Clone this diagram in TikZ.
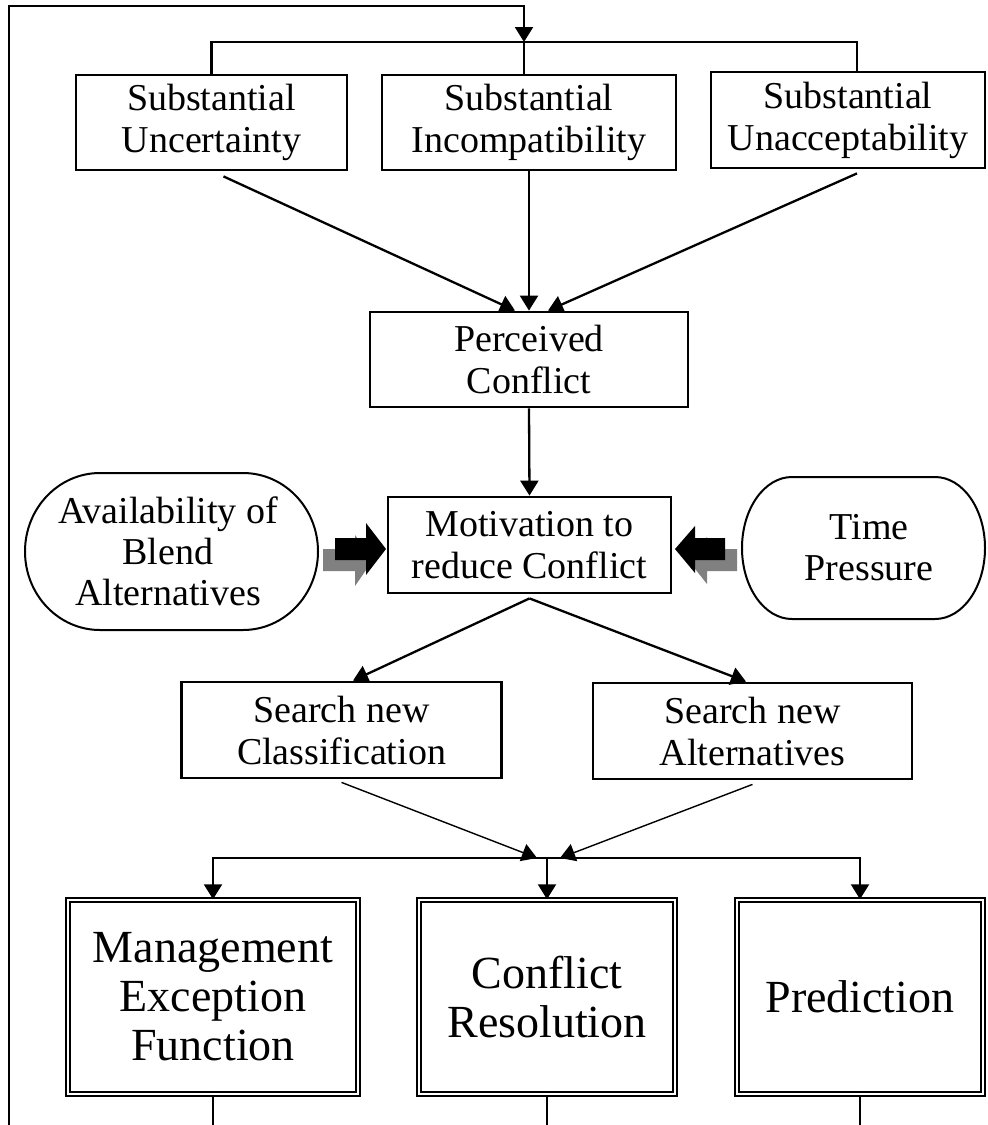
\documentclass[tikz,border=0pt]{standalone}
\usepackage{fontspec}
\setmainfont{Liberation Serif}
\usetikzlibrary{arrows.meta}
\begin{document}
\begin{tikzpicture}[x=1pt,y=-1pt,
  box/.style={draw, line width=2.8pt, inner sep=0pt, align=center, font=\fontsize{38}{42}\selectfont},
  dbox/.style={draw, double, line width=1.5pt, double distance=2.6pt, inner sep=0pt, align=center, font=\fontsize{46}{49}\selectfont},
  conn/.style={line width=2.3pt},
  arr/.style={conn, -{Triangle[length=15pt,width=18pt]}},
  thinarr/.style={line width=1.4pt, -{Triangle[length=15pt,width=18pt]}},
  lbl/.style={align=center, font=\fontsize{38}{41}\selectfont, inner sep=0pt},
  shadowarrow/.style={fill=gray},
  blockarrow/.style={fill=black}]
\useasboundingbox (0,0) rectangle (988,1125);

% top row
\node[box, minimum width=271pt, minimum height=95pt] (unc) at (211.5,122.5) {Substantial\\Uncertainty};
\node[box, minimum width=294pt, minimum height=95pt] (inc) at (529,122.5) {Substantial\\Incompatibility};
\node[box, minimum width=274pt, minimum height=96pt] (una) at (848,120) {Substantial\\Unacceptability};

% middle
\node[box, minimum width=318pt, minimum height=95pt] (perc) at (529,359.5) {Perceived\\Conflict};
\node[box, minimum width=283pt, minimum height=96pt] (mot) at (529.5,545) {Motivation to\\reduce Conflict};

% side shapes
\node[lbl] (avail) at (168,551.5) {Availability of\\Blend\\Alternatives};
\draw[line width=2pt] (100,473) -- (243,473) arc[start angle=-90,end angle=90,x radius=75,y radius=78.5] -- (100,630) arc[start angle=90,end angle=270,x radius=75,y radius=78.5] -- cycle;
\node[lbl] (time) at (869,548) {Time\\Pressure};
\draw[line width=2pt] (792,477) -- (935,477) arc[start angle=-90,end angle=90,x radius=50,y radius=71] -- (792,619) arc[start angle=90,end angle=270,x radius=50,y radius=71] -- cycle;

% block arrows
\fill[shadowarrow] (323,549) -- (355,549) -- (355,535) -- (373,560) -- (355,586) -- (355,571) -- (323,571) -- cycle;
\fill[blockarrow] (335,538) -- (366,538) -- (366,523) -- (386,549) -- (366,575) -- (366,560) -- (335,560) -- cycle;
\fill[shadowarrow] (737,549) -- (707,549) -- (707,537) -- (688,560) -- (707,584) -- (707,571) -- (737,571) -- cycle;
\fill[blockarrow] (725,538) -- (695,538) -- (695,526) -- (675,549) -- (695,573) -- (695,560) -- (725,560) -- cycle;

% search boxes
\node[box, minimum width=320pt, minimum height=96pt] (cls) at (341.5,730) {Search new\\Classification};
\node[box, minimum width=319pt, minimum height=96pt] (alt) at (752.5,731) {Search new\\Alternatives};

% bottom boxes
\node[dbox, minimum width=290pt, minimum height=194pt] (mgmt) at (213,997) {Management\\Exception\\Function};
\node[dbox, minimum width=256pt, minimum height=194pt] (res) at (547,997) {Conflict\\Resolution};
\node[dbox, minimum width=246pt, minimum height=194pt] (pred) at (860,997) {Prediction};

% loop and top bar
\coordinate (lb) at (9,1125);
\coordinate (lt) at (524,6);
\coordinate (tb) at (524,42);
\draw[arr] (lb) |- (lt) -- (tb);
\draw[conn] (unc.north) |- (tb) -| ([xshift=9pt]una.north);
\draw[conn] (tb) -- (tb |- inc.north);

% to perceived conflict
\draw[arr] ([xshift=12pt,yshift=-5pt]unc.south) -- ([xshift=-14pt]perc.north);
\draw[arr] (inc.south) -- (perc.north);
\draw[arr] ([xshift=9pt,yshift=-4pt]una.south) -- ([xshift=19pt]perc.north);
\draw[arr] (perc.south) -- (mot.north);

% to searches
\draw[arr] ([yshift=-4pt]mot.south) -- ([xshift=11.5pt]cls.north);
\draw[arr] ([yshift=-4pt]mot.south) -- ([xshift=-6.5pt]alt.north);

% bottom bar
\coordinate (bb) at (547,858);
\draw[thinarr] ([yshift=-3pt]cls.south) -- ([xshift=-10pt]bb);
\draw[thinarr] ([yshift=-4pt]alt.south) -- ([xshift=13pt]bb);
\draw[arr] (bb) -| (mgmt.north);
\draw[arr] (bb) -- (res.north);
\draw[arr] (bb) -| (pred.north);

% bottom exits
\draw[conn] (mgmt.south) -- (mgmt.south |- lb);
\draw[conn] (res.south) -- (res.south |- lb);
\draw[conn] (pred.south) -- (pred.south |- lb);
\end{tikzpicture}
\end{document}
